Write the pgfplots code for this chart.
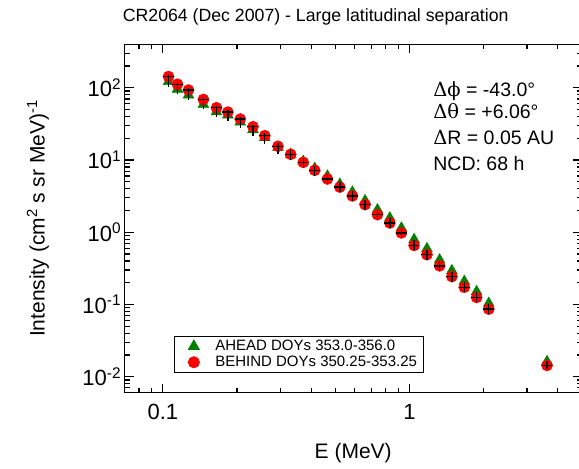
\documentclass[border=0pt]{standalone}
\usepackage{fontspec}
\setmainfont{Liberation Sans}
\newfontfamily\greekfont{DejaVu Serif}
\usepackage{pgfplots}
\pgfplotsset{compat=1.18}
\usepackage{pgfplotstable}

\definecolor{ahead}{RGB}{0,128,0}
\definecolor{behind}{RGB}{255,0,0}

% E (MeV), BEHIND and AHEAD intensities, relative errors
\pgfplotstableread{
E      Ib      Ia      ep     em     ex
0.1054 143     122     0.066  0.273  0.05
0.1146 112     95.5    0.066  0.273  0.05
0.127  93      79.3    0.066  0.273  0.05
0.146  69      58.9    0.066  0.273  0.05
0.165  52.9    46.5    0.066  0.249  0.05
0.1835 46.1    41.9    0.066  0.249  0.05
0.206  36.9    33.5    0.066  0.249  0.05
0.232  28.9    26.3    0.066  0.249  0.05
0.259  21.7    20.4    0.100  0.225  0.05
0.293  15.5    15.0    0.100  0.225  0.05
0.330  12.0    12.0    0.136  0.174  0.05
0.371  9.29    9.59    0.136  0.174  0.05
0.413  7.20    7.67    0.136  0.174  0.05
0.465  5.46    6.01    0.172  0.147  0.05
0.522  4.21    4.63    0.172  0.147  0.05
0.587  3.18    3.61    0.172  0.147  0.05
0.661  2.41    2.74    0.172  0.147  0.05
0.742  1.75    2.05    0.172  0.147  0.05
0.833  1.345   1.58    0.172  0.147  0.05
0.928  0.978   1.146   0.172  0.147  0.05
1.045  0.656   0.794   0.172  0.147  0.05
1.178  0.489   0.592   0.172  0.147  0.05
1.326  0.342   0.414   0.172  0.147  0.05
1.487  0.243   0.294   0.172  0.147  0.05
1.670  0.173   0.209   0.172  0.147  0.05
1.874  0.125   0.151   0.172  0.147  0.05
2.099  0.0861  0.104   0.172  0.147  0.05
3.617  0.0143  0.0162  0.136  0.120  0.05
}\spectra

\begin{document}
\begin{tikzpicture}
\begin{axis}[
  scale only axis,
  width=457pt, height=348.4pt,
  xmode=log, ymode=log,
  xmin=0.07, xmax=5, ymin=0.006, ymax=400,
  clip marker paths=true,
  xtick={0.1,1}, xticklabels={0.1,1},
  minor xtick={0.08,0.09,0.2,0.3,0.4,0.5,0.6,0.7,0.8,0.9,2,3,4},
  ytick={0.01,0.1,1,10,100},
  yticklabels={10\textsuperscript{-2},10\textsuperscript{-1},10\textsuperscript{0},10\textsuperscript{1},10\textsuperscript{2}},
  minor ytick={0.007,0.008,0.009,0.02,0.03,0.04,0.05,0.06,0.07,0.08,0.09,
    0.2,0.3,0.4,0.5,0.6,0.7,0.8,0.9,2,3,4,5,6,7,8,9,
    20,30,40,50,60,70,80,90,200,300},
  tick align=inside,
  major tick length=9pt, minor tick length=5pt,
  every tick/.style={black, line width=1.2pt},
  axis line style={line width=1.5pt},
  tick label style={font=\fontsize{22}{26}\selectfont},
  xticklabel style={yshift=-8pt},
  title={CR2064 (Dec 2007) - Large latitudinal separation},
  title style={at={(0.418,1)}, anchor=base, yshift=17pt, font=\fontsize{17.7}{20}\selectfont},
  xlabel={E (MeV)},
  xlabel style={at={(axis description cs:0.5,-0.172)}, anchor=center, font=\fontsize{21}{25}\selectfont},
  ylabel={Intensity (cm\textsuperscript{2} s sr MeV)\textsuperscript{-1}},
  ylabel style={at={(axis description cs:-0.19,0.5)}, anchor=center, font=\fontsize{21}{25}\selectfont},
  legend style={at={(axis description cs:0.108,0.163)}, anchor=north west,
    draw=black, line width=0.8pt, font=\fontsize{15}{17}\selectfont,
    inner ysep=2pt, inner xsep=4pt, row sep=0pt},
  legend cell align=left,
  legend image code/.code={%
    \path (0pt,0pt) (34pt,0pt);
    \draw[#1] plot coordinates {(15pt,0pt)};},
]
\coordinate (bl) at (rel axis cs:0,0);
\coordinate (tr) at (rel axis cs:1,1);

\addplot[only marks, mark=triangle*, mark size=6.3pt, color=ahead]
  table[x=E, y=Ia]{\spectra};
\addlegendentry{AHEAD DOYs 353.0-356.0}

\addplot[only marks, mark=*, mark size=5.6pt, color=behind]
  table[x=E, y=Ib]{\spectra};
\addlegendentry{BEHIND DOYs 350.25-353.25}

\addplot[draw=none, mark=none, forget plot,
  error bars/.cd, x dir=both, x explicit relative, y dir=both, y explicit relative,
  error mark=none, error bar style={draw=black, line width=1.4pt}]
  table[x=E, y=Ib, x error=ex, y error plus=ep, y error minus=em]{\spectra};

\begin{scope}[font=\fontsize{19.5}{25}\selectfont]
\node[anchor=base west, inner sep=0pt] at (axis description cs:0.675,0.8515) {{\greekfont Δϕ} = -43.0°};
\node[anchor=base west, inner sep=0pt] at (axis description cs:0.675,0.7856) {{\greekfont Δθ} = +6.06°};
\node[anchor=base west, inner sep=0pt] at (axis description cs:0.675,0.7124) {{\greekfont Δ}R = 0.05 AU};
\node[anchor=base west, inner sep=0pt] at (axis description cs:0.675,0.6389) {NCD: 68 h};
\end{scope}
\end{axis}
\pgfresetboundingbox
\path[use as bounding box] ([xshift=-124.7pt,yshift=-76.3pt]bl) rectangle ([xshift=-2.7pt,yshift=44.3pt]tr);
\end{tikzpicture}
\end{document}
